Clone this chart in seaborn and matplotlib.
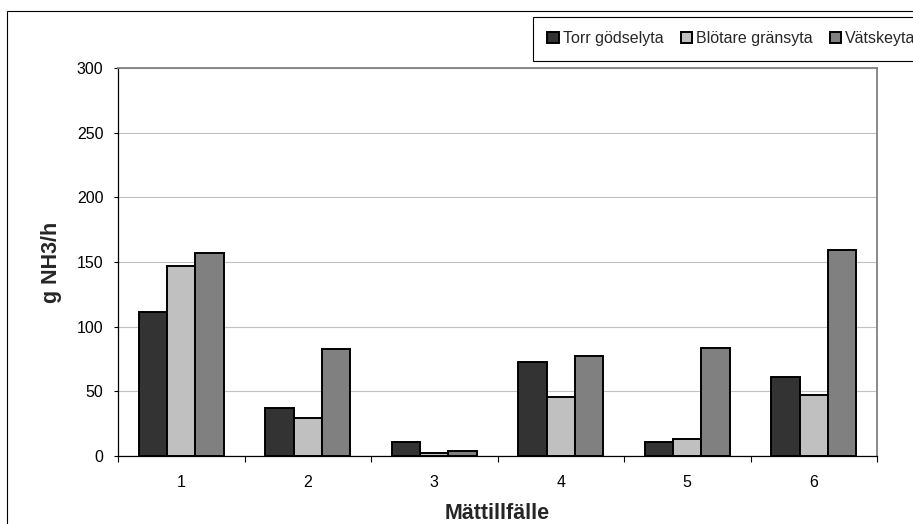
import matplotlib
matplotlib.use("Agg")
import matplotlib.pyplot as plt
from matplotlib.patches import Rectangle
from matplotlib.ticker import FixedLocator
import seaborn as sns
import pandas as pd

categories = ["1", "2", "3", "4", "5", "6"]
series_names = ["Torr gödselyta", "Blötare gränsyta", "Vätskeyta"]
torr = [111, 37, 11, 73, 11, 61]
blotare = [147, 29, 2.5, 46, 13, 47]
vatske = [157, 83, 3.5, 77, 83.5, 159]
colors = ["#333333", "#C0C0C0", "#808080"]
y_ticks = [0, 50, 100, 150, 200, 250, 300]
x_title = "Mättillfälle"
y_title = "g NH3/h"

rows = []
for name, vals in zip(series_names, [torr, blotare, vatske]):
    for c, v in zip(categories, vals):
        rows.append({"Mättillfälle": c, "Serie": name, "Värde": v})
df = pd.DataFrame(rows)

sns.set_style("white")
plt.rcParams["font.family"] = ["Liberation Sans", "DejaVu Sans"]

W, H = 913, 524
fig = plt.figure(figsize=(W / 100, H / 100), dpi=100)
ax = fig.add_axes([118 / W, 1 - 456 / H, (877 - 118) / W, (456 - 68) / H])

sns.barplot(data=df, x="Mättillfälle", y="Värde", hue="Serie",
            order=categories, hue_order=series_names, palette=colors,
            width=0.67, gap=0, edgecolor="black", linewidth=1.4,
            saturation=1, errorbar=None, ax=ax, zorder=3)

handles, labels = ax.get_legend_handles_labels()
if ax.get_legend() is not None:
    ax.get_legend().remove()

ax.set_xlim(-0.5, len(categories) - 0.5)
ax.set_ylim(0, 300)
ax.yaxis.set_major_locator(FixedLocator(y_ticks))
ax.set_yticklabels([str(t) for t in y_ticks])
ax.xaxis.set_minor_locator(FixedLocator([i - 0.5 for i in range(len(categories) + 1)]))
ax.tick_params(axis="x", which="major", length=0, pad=13.5, labelsize=11.5, colors="black")
ax.tick_params(axis="x", which="minor", length=4.5, width=0.8, direction="out", color="black", bottom=True)
ax.tick_params(axis="y", which="major", length=3, width=0.8, direction="out", pad=7.5,
               labelsize=11.5, colors="black", left=True)

ax.grid(axis="y", color="#C0C0C0", linewidth=0.8, zorder=0)
ax.set_axisbelow(True)

for side in ["left", "bottom"]:
    ax.spines[side].set_color("black")
    ax.spines[side].set_linewidth(0.9)
for side in ["top", "right"]:
    ax.spines[side].set_visible(True)
    ax.spines[side].set_color("#808080")
    ax.spines[side].set_linewidth(1.3)

ax.set_xlabel(x_title, fontsize=15.5, fontweight="bold")
ax.set_ylabel(y_title, fontsize=15.5, fontweight="bold")
ax.xaxis.set_label_coords(0.5, -0.122)
ax.yaxis.set_label_coords(-0.087, 0.5)
ax.yaxis.label.set_va("center")

leg = fig.legend(handles, labels, loc="upper left",
                 bbox_to_anchor=(533 / W, 1 - 17 / H), ncol=3, frameon=True,
                 fancybox=False, shadow=False, fontsize=11.5, borderaxespad=0,
                 handlelength=0.7, handleheight=0.7, handletextpad=0.25,
                 columnspacing=1.1, borderpad=0.9)
leg.get_frame().set_edgecolor("black")
leg.get_frame().set_linewidth(0.8)
leg.get_frame().set_facecolor("white")
leg.get_frame().set_alpha(1)

fig.patches.append(Rectangle((7 / W, -0.5), 2, (1 - 10.5 / H) + 0.5,
                             transform=fig.transFigure, fill=False,
                             edgecolor="black", linewidth=0.8, zorder=0))

fig.savefig("out.png", dpi=100, facecolor="white")
